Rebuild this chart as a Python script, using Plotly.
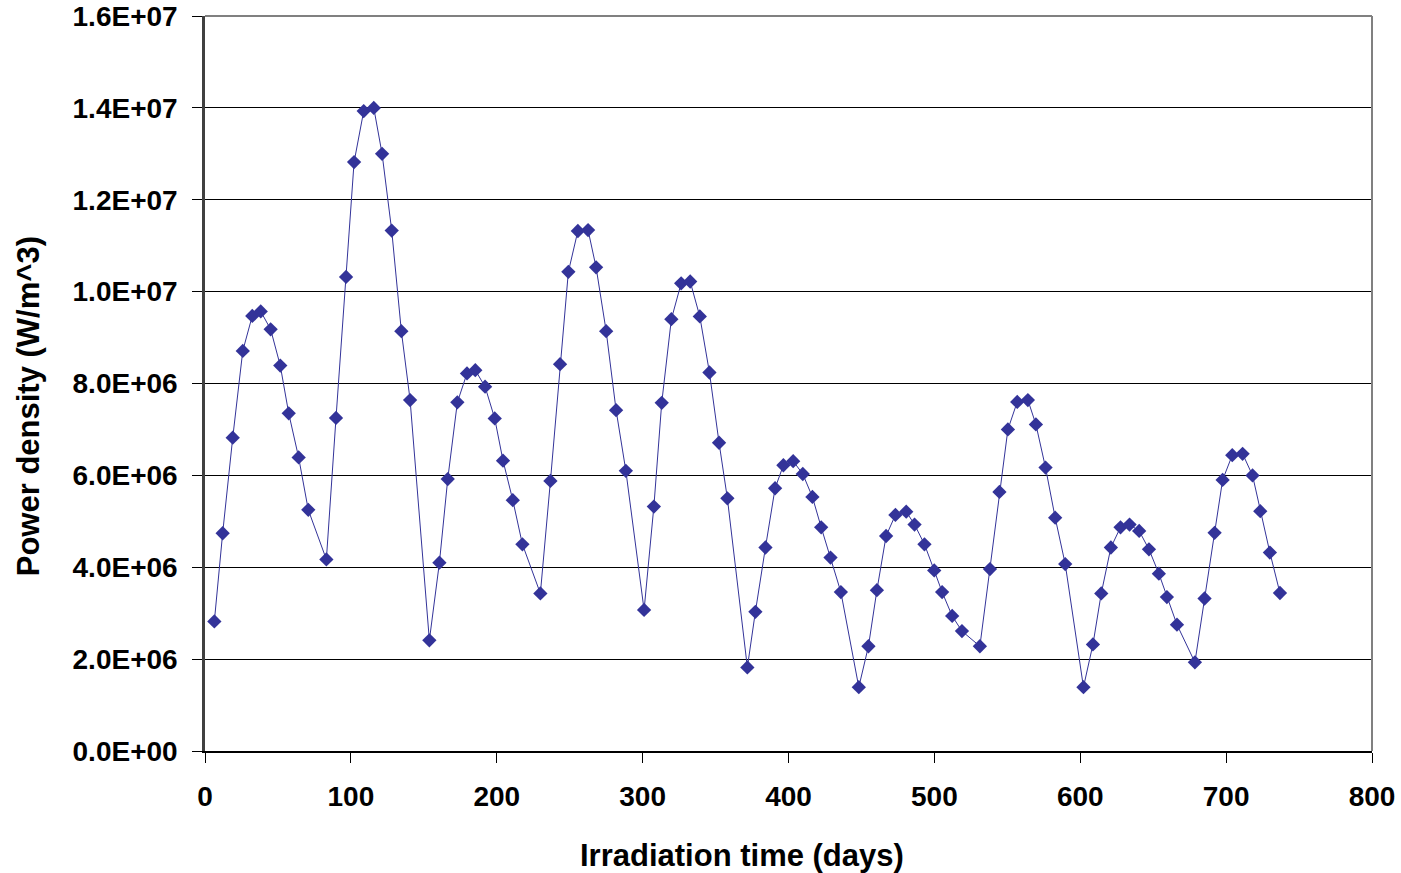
import plotly.graph_objects as go

# Irradiation time (days)
days = [6.4, 12.1, 19.0, 25.9, 32.4, 38.2, 45.0, 51.6, 57.4, 64.2, 70.8, 83.2,
        89.8, 96.7, 102.2, 108.8, 115.7, 121.4, 128.0, 134.6, 140.6, 153.8, 160.7,
        166.4, 173.0, 179.6, 185.3, 192.0, 198.6, 204.3, 211.0, 217.6, 229.9, 236.8,
        243.4, 249.1, 255.6, 262.6, 268.1, 275.0, 281.8, 288.5, 301.0, 307.7, 313.1,
        319.7, 326.4, 332.6, 339.2, 345.8, 352.4, 358.1, 371.8, 377.3, 384.2, 390.8,
        396.5, 403.2, 409.8, 416.4, 422.4, 428.8, 435.9, 448.2, 454.8, 460.6, 466.9,
        473.3, 480.7, 486.4, 493.2, 499.9, 505.3, 512.2, 518.9, 531.2, 538.1, 544.6,
        550.4, 556.8, 564.1, 569.6, 576.2, 582.8, 589.7, 602.2, 608.7, 614.4, 621.0,
        627.6, 633.8, 640.4, 647.1, 653.9, 659.4, 666.3, 678.6, 685.2, 692.1, 697.6,
        704.2, 711.3, 718.1, 723.4, 730.0, 736.9]

# Power density (millions of W/m^3)
power_millions = [2.82, 4.74, 6.82, 8.71, 9.47, 9.57, 9.18, 8.39, 7.35, 6.39, 5.25, 4.17,
                  7.25, 10.32, 12.82, 13.93, 14.00, 13.00, 11.33, 9.14, 7.64, 2.41, 4.10,
                  5.92, 7.59, 8.22, 8.29, 7.93, 7.24, 6.32, 5.46, 4.50, 3.43, 5.88,
                  8.42, 10.43, 11.32, 11.34, 10.53, 9.14, 7.42, 6.10, 3.07, 5.32, 7.58,
                  9.40, 10.18, 10.22, 9.46, 8.24, 6.71, 5.50, 1.82, 3.03, 4.43, 5.72,
                  6.22, 6.31, 6.03, 5.53, 4.87, 4.21, 3.46, 1.39, 2.28, 3.50, 4.68,
                  5.14, 5.21, 4.93, 4.50, 3.93, 3.46, 2.94, 2.61, 2.28, 3.96, 5.64,
                  7.00, 7.60, 7.64, 7.11, 6.17, 5.08, 4.07, 1.39, 2.32, 3.43, 4.43,
                  4.87, 4.93, 4.79, 4.39, 3.86, 3.35, 2.75, 1.93, 3.32, 4.75, 5.90,
                  6.44, 6.47, 6.00, 5.22, 4.32, 3.44]

power = [v * 1e6 for v in power_millions]

x_tick_vals = [0, 100, 200, 300, 400, 500, 600, 700, 800]
y_tick_vals = [0, 2e6, 4e6, 6e6, 8e6, 1e7, 1.2e7, 1.4e7, 1.6e7]
y_tick_text = ["0.0E+00", "2.0E+06", "4.0E+06", "6.0E+06", "8.0E+06",
               "1.0E+07", "1.2E+07", "1.4E+07", "1.6E+07"]

x_title = "Irradiation time (days)"
y_title = "Power density (W/m^3)"

FONT = "Liberation Sans, Arial, sans-serif"
SERIES = "#333399"

fig = go.Figure()
fig.add_trace(go.Scatter(
    x=days, y=power, mode="lines+markers",
    line=dict(color=SERIES, width=1),
    marker=dict(symbol="diamond", size=11, color=SERIES, line=dict(width=0)),
    showlegend=False,
))

fig.update_layout(
    width=1401, height=873, autosize=False,
    margin=dict(l=205, r=29, t=16, b=122, autoexpand=False),
    paper_bgcolor="white", plot_bgcolor="white",
    font=dict(family=FONT, color="black"),
    xaxis=dict(
        range=[0, 800], tickvals=x_tick_vals, automargin=False,
        ticks="outside", ticklen=10, tickwidth=1, tickcolor="#000000",
        showline=True, linecolor="#000000", linewidth=2,
        showgrid=False, zeroline=False,
        tickfont=dict(family=FONT, size=28, weight="bold", color="black"),
        ticklabelstandoff=9, ticklabeloverflow="allow",
    ),
    yaxis=dict(
        range=[0, 1.6e7], tickvals=y_tick_vals, ticktext=y_tick_text, automargin=False,
        ticks="outside", ticklen=10, tickwidth=1, tickcolor="#000000",
        showline=True, linecolor="#404040", linewidth=2.5,
        showgrid=True, gridcolor="#000000", gridwidth=1,
        zeroline=False,
        tickfont=dict(family=FONT, size=28, weight="bold", color="black"),
        ticklabelstandoff=9, ticklabeloverflow="allow",
    ),
    shapes=[
        dict(type="line", xref="paper", yref="paper", x0=0, x1=1, y0=1, y1=1,
             line=dict(color="#808080", width=2), layer="above"),
        dict(type="line", xref="paper", yref="paper", x0=1, x1=1, y0=0, y1=1,
             line=dict(color="#808080", width=2), layer="above"),
    ],
    annotations=[
        dict(text=x_title, xref="paper", yref="paper", x=0.460, y=-0.1415,
             xanchor="center", yanchor="middle", showarrow=False,
             font=dict(family=FONT, size=31, weight="bold", color="black")),
        dict(text=y_title, xref="paper", yref="paper", x=-0.1517, y=0.469,
             xanchor="center", yanchor="middle", showarrow=False, textangle=-90,
             font=dict(family=FONT, size=31, weight="bold", color="black")),
    ],
)

# remove the default 8px page margin so the figure fills the window exactly
fig.write_html("out.html", config={"displayModeBar": False},
               post_script="document.body.style.margin='0px';")
